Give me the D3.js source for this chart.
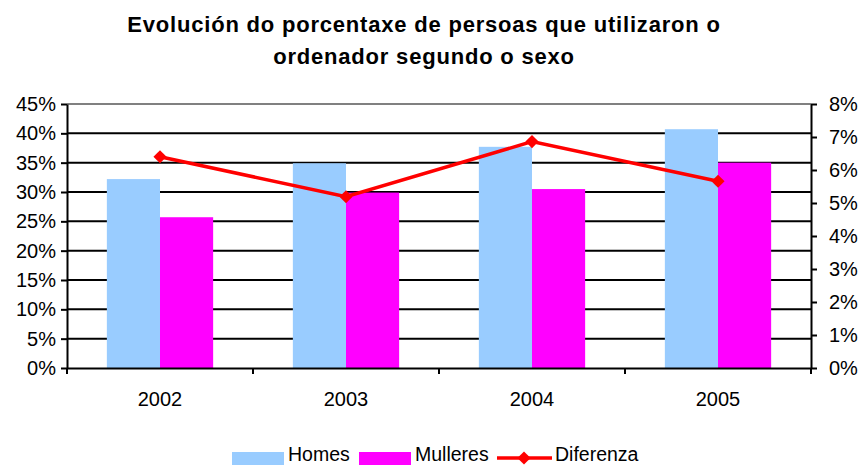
<!DOCTYPE html>
<html>
<head>
  <meta charset="utf-8">
  <style>
    body { margin: 0; padding: 0; background: white; font-family: "Liberation Sans", Arial, sans-serif; }
    .grid line { stroke: #000; stroke-width: 2; }
    .axis path, .axis line { stroke: #000; stroke-width: 2; }
    .axis text { font-size: 20px; fill: #000; font-family: "Liberation Sans", Arial, sans-serif; }
    .title { font-size: 22px; font-weight: bold; text-anchor: middle; letter-spacing: 0.8px; }
    .legend text { font-size: 19.5px; }
  </style>
</head>
<body>
  <div id="chart"></div>
  <script src="https://d3js.org/d3.v7.min.js"></script>
  <script>
    // chart data
    var years = ["2002", "2003", "2004", "2005"]
    var homes = [32.2, 34.9, 37.7, 40.7]
    var mulleres = [25.7, 29.9, 30.5, 35.0]
    var diferenza = [6.4, 5.19, 6.86, 5.66]
    var leftTicks = [0, 5, 10, 15, 20, 25, 30, 35, 40, 45]
    var rightTicks = [0, 1, 2, 3, 4, 5, 6, 7, 8]

    var width = 864, height = 465
    var margin = { top: 104, right: 53, bottom: 97, left: 67 }
    var w = width - margin.left - margin.right,
      h = height - margin.top - margin.bottom

    var svg = d3.select("#chart").append("svg")
      .attr("width", width)
      .attr("height", height)

    // title
    var title = svg.append("text").attr("class", "title")
    title.append("tspan").attr("x", 424).attr("y", 32).text("Evolución do porcentaxe de persoas que utilizaron o")
    title.append("tspan").attr("x", 424).attr("y", 64).text("ordenador segundo o sexo")

    var g = svg.append("g").attr("transform", "translate(" + margin.left + "," + margin.top + ")")

    var x = d3.scaleBand().domain(years).range([0, w])
    var yL = d3.scaleLinear().domain([0, 45]).range([h, 0])
    var yR = d3.scaleLinear().domain([0, 8]).range([h, 0])

    // gridlines
    g.append("g").attr("class", "grid")
      .selectAll("line")
      .data(leftTicks.slice(1))
      .enter().append("line")
      .attr("x1", 0).attr("x2", w)
      .attr("y1", function(d) { return yL(d) })
      .attr("y2", function(d) { return yL(d) })
      .style("stroke", function(d) { return d === 45 ? "#808080" : "#000" })

    // bars
    var barW = x.bandwidth() / 3.5
    var groups = g.append("g").selectAll("g")
      .data(years)
      .enter().append("g")
      .attr("transform", function(d) { return "translate(" + (x(d) + x.bandwidth() / 2) + ",0)" })

    groups.append("rect")
      .attr("x", -barW)
      .attr("width", barW)
      .attr("y", function(d, i) { return yL(homes[i]) })
      .attr("height", function(d, i) { return h - yL(homes[i]) })
      .attr("fill", "#99ccff")

    groups.append("rect")
      .attr("x", 0)
      .attr("width", barW)
      .attr("y", function(d, i) { return yL(mulleres[i]) })
      .attr("height", function(d, i) { return h - yL(mulleres[i]) })
      .attr("fill", "#ff00ff")

    // axes
    var left = g.append("g").attr("class", "axis")
      .call(d3.axisLeft(yL).tickValues(leftTicks).tickSize(6).tickSizeOuter(0).tickFormat(function(d) { return d + "%" }))
    left.selectAll("text").attr("x", -11)

    var right = g.append("g").attr("class", "axis")
      .attr("transform", "translate(" + w + ",0)")
      .call(d3.axisRight(yR).tickValues(rightTicks).tickSize(6).tickSizeOuter(0).tickFormat(function(d) { return d + "%" }))
    right.selectAll("text").attr("x", 18)

    var bottom = g.append("g").attr("class", "axis")
      .attr("transform", "translate(0," + h + ")")
      .call(d3.axisBottom(x).tickSize(0).tickSizeOuter(0))
    bottom.selectAll("text").attr("y", 38).attr("dy", 0)
    bottom.selectAll(".sep")
      .data(years.slice(1))
      .enter().append("line")
      .attr("x1", function(d) { return x(d) }).attr("x2", function(d) { return x(d) })
      .attr("y1", 0).attr("y2", 6)
      .attr("stroke", "#000").attr("stroke-width", 2)
    bottom.append("line").attr("x1", 0).attr("x2", 0).attr("y1", 0).attr("y2", 6).attr("stroke", "#000").attr("stroke-width", 2)
    bottom.append("line").attr("x1", w).attr("x2", w).attr("y1", 0).attr("y2", 6).attr("stroke", "#000").attr("stroke-width", 2)

    // difference line
    var line = d3.line()
      .x(function(d, i) { return x(years[i]) + x.bandwidth() / 2 })
      .y(function(d) { return yR(d) })

    g.append("path")
      .datum(diferenza)
      .attr("d", line)
      .attr("fill", "none")
      .attr("stroke", "#ff0000")
      .attr("stroke-width", 3.5)

    var diamond = d3.symbol().type(d3.symbolDiamond2).size(110)
    g.selectAll(".marker")
      .data(diferenza)
      .enter().append("path")
      .attr("d", diamond)
      .attr("transform", function(d, i) { return "translate(" + (x(years[i]) + x.bandwidth() / 2) + "," + yR(d) + ")" })
      .attr("fill", "#ff0000")

    // legend
    var legend = svg.append("g").attr("class", "legend")
    legend.append("rect").attr("x", 232).attr("y", 452).attr("width", 52).attr("height", 13).attr("fill", "#99ccff")
    legend.append("text").attr("x", 288).attr("y", 461).text("Homes")
    legend.append("rect").attr("x", 359).attr("y", 452).attr("width", 52).attr("height", 13).attr("fill", "#ff00ff")
    legend.append("text").attr("x", 415).attr("y", 461).text("Mulleres")
    legend.append("line").attr("x1", 497).attr("x2", 552).attr("y1", 458).attr("y2", 458).attr("stroke", "#ff0000").attr("stroke-width", 3.5)
    legend.append("path").attr("d", diamond).attr("transform", "translate(524,458)").attr("fill", "#ff0000")
    legend.append("text").attr("x", 555).attr("y", 461).text("Diferenza")
  </script>
</body>
</html>
